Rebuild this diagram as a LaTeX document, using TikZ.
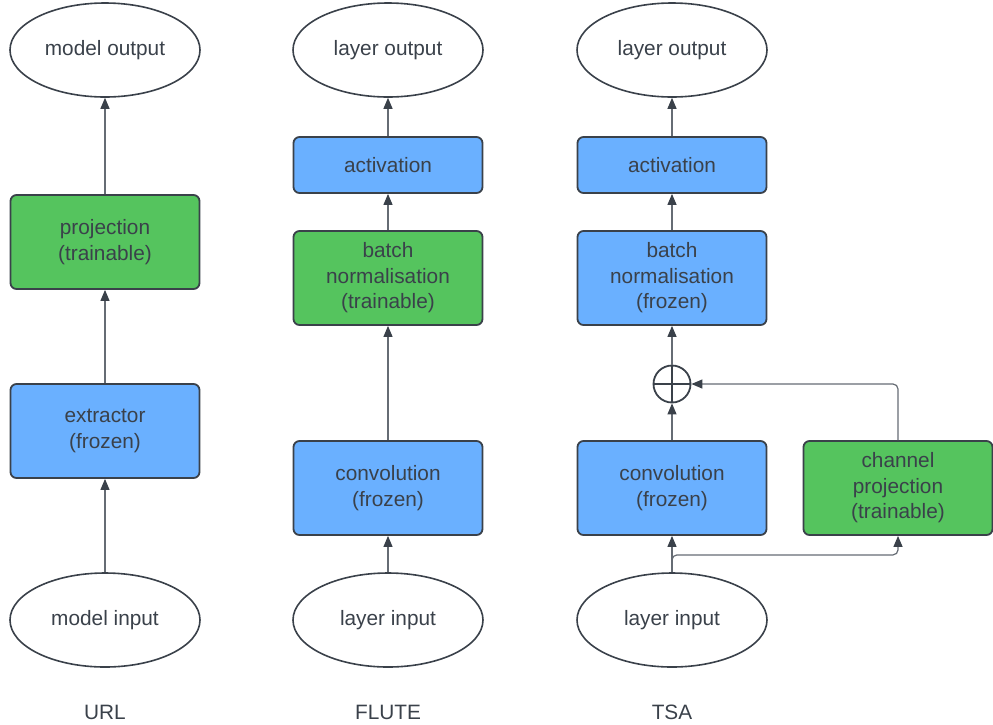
\documentclass[tikz,border=0pt]{standalone}
\usepackage{fontspec}
\setmainfont{Liberation Sans}
\usetikzlibrary{shapes.geometric,arrows.meta}
\definecolor{frozenblue}{HTML}{6AB0FF}
\definecolor{traingreen}{HTML}{55C45E}
\definecolor{edge}{HTML}{3A414A}
\definecolor{wire}{HTML}{666C74}
\begin{document}
\begin{tikzpicture}[x=1pt,y=-1pt,
  every node/.style={font=\fontsize{20.8}{25.5}\selectfont, text=edge, align=center},
  block/.style={draw=edge, line width=1.8pt, rounded corners=6pt,
    minimum width=189pt, minimum height=94pt, inner sep=2pt},
  thin block/.style={block, minimum height=56pt},
  frozen/.style={fill=frozenblue},
  trainable/.style={fill=traingreen},
  term/.style={ellipse, draw=edge, line width=1.6pt, fill=white,
    minimum width=190pt, minimum height=94pt, inner sep=0pt},
  summer/.style={circle, draw=edge, line width=1.8pt, minimum size=37pt, inner sep=0pt,
    path picture={\draw[edge, line width=1.8pt]
      (path picture bounding box.north) -- (path picture bounding box.south)
      (path picture bounding box.west) -- (path picture bounding box.east);}},
  flow/.style={draw=wire, line width=1.2pt,
    -{Triangle[length=11pt,width=9pt,fill=edge,color=edge]}},
  caption/.style={font=\fontsize{20.8}{24}\selectfont, text=edge}
]
\useasboundingbox (0,0) rectangle (993,724);

% URL column
\node[term] (urlout) at (105,50) {model output};
\node[block,trainable] (proj) at (105,242) {projection\\(trainable)};
\node[block,frozen] (extr) at (105,431) {extractor\\(frozen)};
\node[term] (urlin) at (105,620) {model input};
\node[caption] (urllab) at (105,712) {URL};
\draw[flow] (urlin) -- (extr);
\draw[flow] (extr) -- (proj);
\draw[flow] (proj) -- (urlout);

% FLUTE column
\node[term] (flout) at (388,50) {layer output};
\node[thin block,frozen] (flact) at (388,165) {activation};
\node[block,trainable] (flbn) at (388,278) {batch\\normalisation\\(trainable)};
\node[block,frozen] (flconv) at (388,488) {convolution\\(frozen)};
\node[term] (flin) at (388,620) {layer input};
\node[caption] (fllab) at (388,712) {FLUTE};
\draw[flow] (flin) -- (flconv);
\draw[flow] (flconv) -- (flbn);
\draw[flow] (flbn) -- (flact);
\draw[flow] (flact) -- (flout);

% TSA column
\node[term] (tsout) at (672,50) {layer output};
\node[thin block,frozen] (tsact) at (672,165) {activation};
\node[block,frozen] (tsbn) at (672,278) {batch\\normalisation\\(frozen)};
\node[summer] (sum) at (672,384) {};
\node[block,frozen] (tsconv) at (672,488) {convolution\\(frozen)};
\node[block,trainable] (chproj) at (898,488) {channel\\projection\\(trainable)};
\node[term] (tsin) at (672,620) {layer input};
\node[caption] (tslab) at (672,712) {TSA};
\coordinate (split) at (672,564);
\draw[flow] (tsin) -- (tsconv);
\draw[flow, rounded corners=5pt] (split) |- ([yshift=-19pt]chproj.south) -- (chproj.south);
\draw[flow, rounded corners=5pt] (chproj.north) |- (sum.east);
\draw[flow] (tsconv) -- (sum);
\draw[flow] (sum) -- (tsbn);
\draw[flow] (tsbn) -- (tsact);
\draw[flow] (tsact) -- (tsout);
\end{tikzpicture}
\end{document}
